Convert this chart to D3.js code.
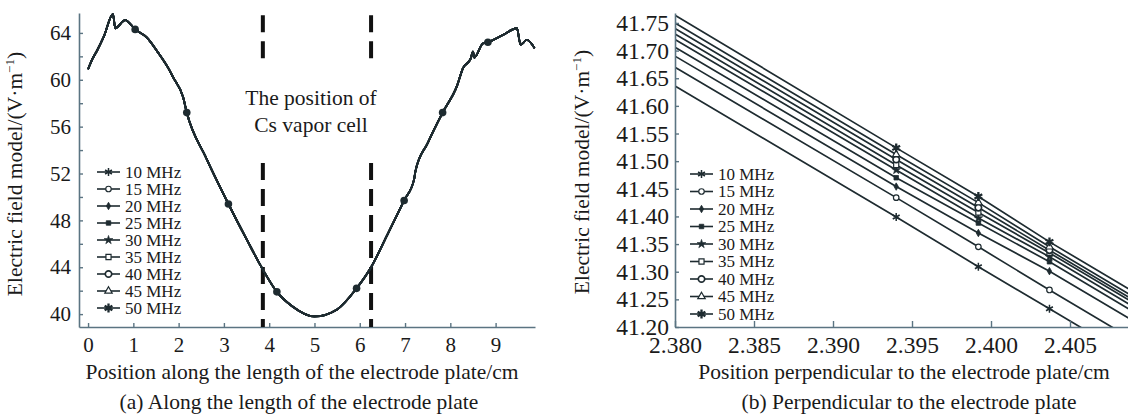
<!DOCTYPE html>
<html>
<head>
<meta charset="utf-8">
<script src="https://cdn.jsdelivr.net/npm/d3@7"></script>
<style>
  body { margin: 0; background: #fff; }
  svg { font-family: "Liberation Serif", "Times New Roman", serif; }
</style>
</head>
<body>
<script>
var w = 1128;
var h = 415;

// frequencies (same for both panels)
var freqs = ["10 MHz", "15 MHz", "20 MHz", "25 MHz", "30 MHz", "35 MHz", "40 MHz", "45 MHz", "50 MHz"];

// panel (a): field along the plate, all frequencies fall on the same curve
var posA = [0, 0.1, 0.2, 0.35, 0.55, 0.6, 0.82, 1.04, 1.3, 1.55, 1.8, 1.88, 2.1, 2.18, 2.6, 3.1, 3.5, 3.86, 4.17, 4.5, 5.0, 5.5, 5.93, 6.25, 6.6, 6.98, 7.2, 7.23, 7.5, 7.83, 8.15, 8.28, 8.45, 8.5, 8.53, 8.72, 8.83, 9.15, 9.47, 9.55, 9.69, 9.86];
var fieldA = [60.9, 61.8, 62.5, 63.7, 65.6, 64.4, 65.1, 64.3, 63.6, 62.3, 60.8, 60.2, 58.5, 57.2, 53.4, 49.4, 46.4, 43.8, 41.9, 40.7, 39.8, 40.4, 42.2, 44.0, 46.7, 49.7, 51.5, 52.2, 54.6, 57.2, 59.5, 61.0, 61.8, 62.4, 61.9, 63.1, 63.2, 63.8, 64.4, 63.0, 63.4, 62.7];
var markPosA = [1.04, 2.18, 3.1, 4.17, 5.93, 6.98, 7.83, 8.83];
var cellEdges = [3.86, 6.25];

// panel (b): field perpendicular to the plate
var posB = [2.380, 2.394, 2.3992, 2.4037, 2.410];
var markPosB = [2.394, 2.3992, 2.4037];
var fieldB = [
  [41.636, 41.399, 41.309, 41.233, 41.126],
  [41.670, 41.434, 41.345, 41.267, 41.160],
  [41.690, 41.454, 41.370, 41.301, 41.194],
  [41.706, 41.470, 41.388, 41.318, 41.211],
  [41.720, 41.484, 41.397, 41.327, 41.220],
  [41.730, 41.493, 41.407, 41.334, 41.227],
  [41.740, 41.503, 41.416, 41.339, 41.232],
  [41.750, 41.512, 41.425, 41.345, 41.238],
  [41.764, 41.524, 41.436, 41.354, 41.247]
];

var lineColor = "#1e2b30";
var axisColor = "#5b7482";
var textColor = "#1a1a1a";

var svg = d3.select("body").append("svg")
  .attr("width", w)
  .attr("height", h);

// marker shapes per frequency
var shapes = [
  {type: d3.symbolAsterisk, size: 44, fill: "none", sw: 1.5},
  {type: d3.symbolCircle, size: 24, fill: "#fff", sw: 1.2},
  {type: d3.symbolDiamond, size: 16, fill: lineColor, sw: 0.8},
  {type: d3.symbolSquare, size: 20, fill: lineColor, sw: 0.8},
  {type: d3.symbolStar, size: 24, fill: lineColor, sw: 0.6},
  {type: d3.symbolSquare, size: 26, fill: "#fff", sw: 1.2},
  {type: d3.symbolCircle, size: 32, fill: "#fff", sw: 1.7},
  {type: d3.symbolTriangle, size: 24, fill: "#fff", sw: 1.2},
  {type: d3.symbolAsterisk, size: 56, fill: "none", sw: 2.3}
];

function drawSymbol(g, i, x, y) {
  var s = shapes[i];
  g.append("path")
    .attr("d", d3.symbol().type(s.type).size(s.size)())
    .attr("transform", "translate(" + x + "," + y + ")")
    .attr("fill", s.fill)
    .attr("stroke", lineColor)
    .attr("stroke-width", s.sw);
}

function styleAxis(g, fontSize) {
  g.select(".domain").attr("stroke", axisColor).attr("stroke-width", 1.6);
  g.selectAll(".tick line").attr("stroke", axisColor).attr("stroke-width", 1.4);
  g.selectAll(".tick text")
    .attr("fill", textColor)
    .style("font-size", fontSize + "px")
    .style("font-family", "Liberation Serif, serif");
}

function legend(x0, y0, dy) {
  var g = svg.append("g");
  freqs.forEach(function(f, i) {
    var y = y0 + i * dy;
    g.append("line")
      .attr("x1", x0).attr("x2", x0 + 23)
      .attr("y1", y).attr("y2", y)
      .attr("stroke", lineColor).attr("stroke-width", 1.6);
    drawSymbol(g, i, x0 + 11.5, y);
    g.append("text")
      .attr("x", x0 + 28).attr("y", y + 5.5)
      .attr("fill", textColor)
      .style("font-size", "17px")
      .text(f);
  });
}

function yTitle(x, y) {
  var t = svg.append("text")
    .attr("transform", "translate(" + x + "," + y + ") rotate(-90)")
    .attr("text-anchor", "middle")
    .attr("fill", textColor)
    .style("font-size", "21.5px");
  t.append("tspan").text("Electric field model/(V\u00b7m");
  t.append("tspan").attr("dy", -8).style("font-size", "13px").text("\u22121");
  t.append("tspan").attr("dy", 8).text(")");
}

function label(x, y, txt) {
  svg.append("text")
    .attr("x", x).attr("y", y)
    .attr("text-anchor", "middle").attr("fill", textColor)
    .style("font-size", "21.5px")
    .text(txt);
}

// ---------- panel (a) ----------
var xA = d3.scaleLinear().domain([-0.2, 9.87]).range([79, 535]);
var yA = d3.scaleLinear().domain([38.9, 65.7]).range([327, 13]);

var gxA = svg.append("g")
  .attr("transform", "translate(0," + yA(38.9) + ")")
  .call(d3.axisBottom(xA).tickValues(d3.range(0, 10)).tickSize(-4).tickPadding(10).tickSizeOuter(0));
styleAxis(gxA, 21);

var gyA = svg.append("g")
  .attr("transform", "translate(" + xA(-0.2) + ",0)")
  .call(d3.axisLeft(yA).tickValues(d3.range(40, 65, 2)).tickSize(-4).tickPadding(8).tickSizeOuter(0)
    .tickFormat(function(d) { return d % 4 === 0 ? d : ""; }));
styleAxis(gyA, 21);

// cell position dashed lines
cellEdges.forEach(function(c) {
  [[65.5, 61.8], [52.9, 38.9]].forEach(function(seg) {
    svg.append("line")
      .attr("x1", xA(c)).attr("x2", xA(c))
      .attr("y1", yA(seg[0])).attr("y2", yA(seg[1]))
      .attr("stroke", "#111")
      .attr("stroke-width", 4)
      .attr("stroke-dasharray", "17,9");
  });
});

label(311, 105, "The position of");
label(311, 132, "Cs vapor cell");

var lineA = d3.line()
  .x(function(d) { return xA(d[0]); })
  .y(function(d) { return yA(d[1]); })
  .curve(d3.curveMonotoneX);

var ptsA = posA.map(function(p, i) { return [p, fieldA[i]]; });
freqs.forEach(function() {
  svg.append("path")
    .datum(ptsA)
    .attr("d", lineA)
    .attr("fill", "none")
    .attr("stroke", lineColor)
    .attr("stroke-width", 1.8);
});

svg.selectAll(".markA")
  .data(markPosA)
  .enter()
  .append("circle")
  .attr("class", "markA")
  .attr("cx", function(d) { return xA(d); })
  .attr("cy", function(d) { return yA(fieldA[posA.indexOf(d)]); })
  .attr("r", 3.8)
  .attr("fill", lineColor);

legend(97, 172, 17);
yTitle(22, 174);

label(302, 379, "Position along the length of the electrode plate/cm");
label(299, 409, "(a) Along the length of the electrode plate");

// ---------- panel (b) ----------
var xB = d3.scaleLinear().domain([2.380, 2.40867]).range([675, 1128]);
var yB = d3.scaleLinear().domain([41.20, 41.768]).range([327, 13]);

svg.append("clipPath").attr("id", "clipB")
  .append("rect")
  .attr("x", xB(2.380)).attr("y", yB(41.768))
  .attr("width", xB(2.40867) - xB(2.380))
  .attr("height", yB(41.20) - yB(41.768));

var lineB = d3.line()
  .x(function(d) { return xB(d[0]); })
  .y(function(d) { return yB(d[1]); });

var gB = svg.append("g").attr("clip-path", "url(#clipB)");
fieldB.forEach(function(vals, i) {
  var pts = posB.map(function(p, j) { return [p, vals[j]]; });
  gB.append("path")
    .datum(pts)
    .attr("d", lineB)
    .attr("fill", "none")
    .attr("stroke", lineColor)
    .attr("stroke-width", 1.7);
  markPosB.forEach(function(p) {
    drawSymbol(gB, i, xB(p), yB(vals[posB.indexOf(p)]));
  });
});

var gxB = svg.append("g")
  .attr("transform", "translate(0," + yB(41.20) + ")")
  .call(d3.axisBottom(xB).tickValues(d3.range(0, 6).map(function(i) { return 2.380 + i * 0.005; }))
    .tickSize(-6).tickPadding(9).tickSizeOuter(0).tickFormat(d3.format(".3f")));
styleAxis(gxB, 23.5);

var gyB = svg.append("g")
  .attr("transform", "translate(" + xB(2.380) + ",0)")
  .call(d3.axisLeft(yB).tickValues(d3.range(0, 12).map(function(i) { return 41.20 + i * 0.05; }))
    .tickSize(-4).tickPadding(6).tickSizeOuter(0).tickFormat(d3.format(".2f")));
styleAxis(gyB, 23.5);

legend(690, 174, 17.5);
yTitle(589, 172);

label(904, 379, "Position perpendicular to the electrode plate/cm");
label(909, 409, "(b) Perpendicular to the electrode plate");
</script>
</body>
</html>
